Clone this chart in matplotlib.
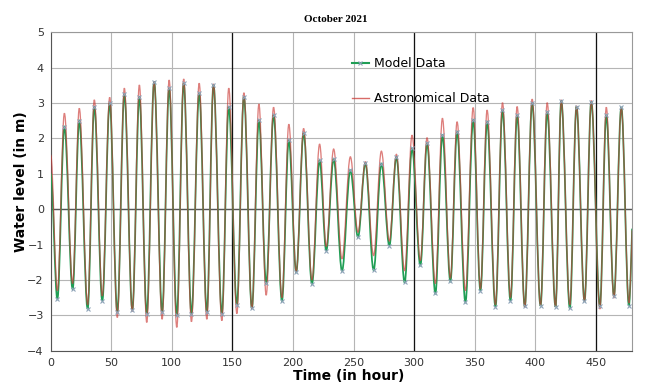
import matplotlib
matplotlib.use("Agg")
import matplotlib.pyplot as plt
from matplotlib.path import Path
from matplotlib.patches import PathPatch
from matplotlib.lines import Line2D

# high / low water (hour, metres)
high_t = [11.3, 23.6, 36.0, 48.7, 60.8, 73.2, 85.4, 97.8, 109.8, 122.6, 134.4, 147.0,
          159.5, 171.9, 184.0, 196.6, 208.8, 222.0, 233.6, 247.4, 259.8, 273.0, 285.4,
          298.3, 310.7, 323.4, 335.5, 348.8, 360.3, 373.0, 385.1, 397.5, 409.9, 421.5,
          434.1, 446.3, 458.7, 471.1]
astro_high = [2.71, 2.85, 3.09, 3.16, 3.42, 3.51, 3.61, 3.65, 3.68, 3.56, 3.54, 3.42,
              3.29, 2.97, 2.88, 2.40, 2.28, 1.84, 1.70, 1.48, 1.34, 1.64, 1.55,
              2.09, 2.02, 2.57, 2.47, 2.87, 2.80, 3.01, 2.90, 3.11, 3.01, 3.09,
              2.92, 3.07, 2.88, 2.87]
model_high = [2.33, 2.50, 2.90, 3.00, 3.25, 3.18, 3.60, 3.42, 3.56, 3.28, 3.51, 2.90,
              3.18, 2.52, 2.66, 1.95, 2.15, 1.38, 1.42, 1.10, 1.30, 1.29, 1.48,
              1.72, 1.86, 2.09, 2.19, 2.52, 2.47, 2.80, 2.66, 3.00, 2.75, 3.07,
              2.90, 3.04, 2.66, 2.88]

low_t = [5.5, 18.1, 30.5, 42.6, 55.0, 67.4, 79.3, 92.0, 104.1, 116.2, 128.9, 141.3,
         153.7, 166.1, 177.9, 190.9, 202.7, 215.7, 227.5, 240.5, 253.7, 266.6, 279.6,
         292.2, 305.2, 317.6, 330.0, 342.4, 354.8, 367.2, 379.6, 391.4, 404.4, 416.8,
         428.6, 440.7, 453.4, 465.0, 477.4]
astro_low = [-2.30, -2.10, -2.70, -2.45, -3.06, -2.89, -3.20, -3.11, -3.34, -3.18, -3.11, -3.15,
             -2.95, -2.82, -2.43, -2.50, -1.78, -2.00, -1.05, -1.40, -0.65, -1.31, -0.90,
             -1.74, -1.45, -2.10, -1.95, -2.30, -2.25, -2.70, -2.50, -2.78, -2.73, -2.76,
             -2.70, -2.61, -2.82, -2.51, -2.65]
model_low = [-2.54, -2.26, -2.82, -2.59, -2.90, -2.85, -2.95, -2.90, -3.00, -2.95, -2.90, -2.95,
             -2.70, -2.80, -2.10, -2.59, -1.78, -2.11, -1.17, -1.74, -0.79, -1.72, -1.03,
             -2.07, -1.59, -2.38, -2.04, -2.63, -2.30, -2.76, -2.59, -2.75, -2.73, -2.76,
             -2.80, -2.60, -2.75, -2.45, -2.73]

# level at the first and last hour
astro_ends = [1.53, -0.60]
model_ends = [1.00, -0.55]
t_ends = [0, 480]


def tide_path(h_hi, h_lo, ends):
    pts = sorted(list(zip(high_t, h_hi)) + list(zip(low_t, h_lo)))
    pts = [(t_ends[0], ends[0])] + pts + [(t_ends[1], ends[1])]
    verts = [pts[0]]
    codes = [Path.MOVETO]
    k = 0.36
    for i in range(1, len(pts)):
        (t0, h0), (t1, h1) = pts[i - 1], pts[i]
        dt = t1 - t0
        c2 = (t1 - k * dt, h1) if i < len(pts) - 1 else (t1, h1)
        verts += [(t0 + k * dt, h0), c2, (t1, h1)]
        codes += [Path.CURVE4] * 3
    return Path(verts, codes)


fig = plt.figure(figsize=(6.45, 3.83), dpi=100)
ax = fig.add_axes([0.0786, 0.0843, 0.9014, 0.8314])

green = "#1f9e55"
red = "#cc3a36"

ax.add_patch(PathPatch(tide_path(model_high, model_low, model_ends), fill=False,
                       edgecolor=green, lw=1.25, zorder=3))
ax.add_patch(PathPatch(tide_path(astro_high, astro_low, astro_ends), fill=False,
                       edgecolor=red, lw=0.95, alpha=0.65, zorder=4))
ax.plot(high_t + low_t, model_high + model_low, ls="none", marker="x", ms=3.5,
        mew=0.8, color="#8ea3b8", zorder=5)

ax.set_xlim(0, 480)
ax.set_ylim(-4, 5)
ax.set_xticks(range(0, 481, 50))
ax.set_yticks(range(-4, 6))
ax.grid(True, color="#b5b5b5", lw=0.8)
ax.set_axisbelow(True)
for x in [150, 300, 450]:
    ax.axvline(x, color="#111111", lw=0.9, zorder=2)
ax.axhline(0, color="#555555", lw=1.0, zorder=2)
for s in ax.spines.values():
    s.set_color("#999999")
    s.set_linewidth(0.8)
ax.spines["left"].set_color("#555555")
ax.spines["bottom"].set_color("#555555")
ax.tick_params(length=0, pad=5, labelsize=8, labelcolor="#333333")

ax.set_ylabel("Water level (in m)", fontsize=10, fontweight="bold")
ax.yaxis.set_label_coords(-0.039, 0.53)
ax.set_xlabel("Time (in hour)", fontsize=10, fontweight="bold")
ax.xaxis.set_label_coords(0.513, -0.058)

fig.text(0.521, 1 - 19 / 383, "October 2021", family="Liberation Serif",
         fontweight="bold", fontsize=8, ha="center", va="center")

handles = [Line2D([], [], color=green, lw=1.5, marker="x", ms=3.5, mew=0.8,
                  markeredgecolor="#8ea3b8"),
           Line2D([], [], color=red, lw=1.0, alpha=0.75)]
ax.legend(handles, ["Model Data", "Astronomical Data"], frameon=False, fontsize=9,
          loc="upper left", bbox_to_anchor=(346 / 645, 1 - 51 / 383),
          bbox_transform=fig.transFigure, borderpad=0, handlelength=1.3,
          handletextpad=0.45, labelspacing=1.75)

fig.savefig("out.png", dpi=100)
